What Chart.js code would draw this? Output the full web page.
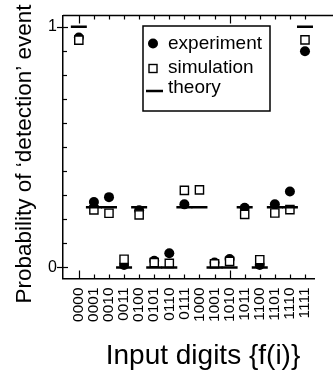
<!DOCTYPE html>
<html>
<head>
<meta charset="utf-8">
<script src="https://cdn.jsdelivr.net/npm/chart.js@4"></script>
<style>
  html, body { margin: 0; padding: 0; background: #fff; }
  #wrap { width: 333px; height: 377px; }
</style>
</head>
<body>
<div id="wrap"><canvas id="myChart" width="333" height="377"></canvas></div>
<script>
// Chart data
var categories = ['0000', '0001', '0010', '0011', '0100', '0101', '0110', '0111',
                  '1000', '1001', '1010', '1011', '1100', '1101', '1110', '1111'];
var experiment = [0.955, 0.272, 0.292, 0.01, 0.237, 0.028, 0.059, 0.262,
                  null, 0.02, 0.035, 0.248, 0.01, 0.262, 0.315, 0.898];
var simulation = [0.944, 0.239, 0.225, 0.034, 0.218, 0.02, 0.017, 0.32,
                  0.322, 0.015, 0.025, 0.22, 0.032, 0.226, 0.24, 0.945];
var theory = [1, 0.25, 0.25, 0, 0.25, 0, 0, 0.25, 0.25, 0, 0, 0.25, 0, 0.25, 0.25, 1];
var yTicks = [0, 0.1, 0.2, 0.3, 0.4, 0.5, 0.6, 0.7, 0.8, 0.9, 1];
var yLabels = ['0', '1'];

var FONT = '"Liberation Sans", Arial, Helvetica, sans-serif';

function points(values) {
  return values.map(function (v, i) { return { x: i, y: v }; });
}

// Frame, inward ticks, axis titles and the legend box
var decorPlugin = {
  id: 'decor',
  afterDraw: function (chart) {
    var c = chart.ctx;
    var a = chart.chartArea;
    var xs = chart.scales.x;
    var ys = chart.scales.y;
    c.save();
    c.strokeStyle = '#000';
    c.lineWidth = 1.5;
    // top frame line
    c.beginPath();
    c.moveTo(a.left, a.top);
    c.lineTo(chart.width, a.top);
    c.stroke();

    c.lineWidth = 1.2;
    // y ticks
    yTicks.forEach(function (v) {
      var py = Math.round(ys.getPixelForValue(v)) + 0.5;
      var major = (v === 0 || v === 1);
      c.beginPath();
      c.moveTo(major ? a.left - 6 : a.left, py);
      c.lineTo(a.left + (major ? 5 : 4), py);
      c.stroke();
    });
    // x ticks, bottom and top
    categories.forEach(function (cat, i) {
      var px = Math.round(xs.getPixelForValue(i)) + 0.5;
      var len = (i % 10 === 0) ? 8 : 4;
      c.beginPath();
      c.moveTo(px, a.bottom);
      c.lineTo(px, a.bottom - len);
      c.moveTo(px, a.top);
      c.lineTo(px, a.top + len);
      c.stroke();
    });

    // axis titles
    c.fillStyle = '#000';
    c.textAlign = 'center';
    c.textBaseline = 'middle';
    c.font = '28px ' + FONT;
    c.fillText('Input digits {f(i)}', 203, 356);
    c.save();
    c.translate(25, 154);
    c.rotate(-Math.PI / 2);
    c.font = '22.5px ' + FONT;
    c.fillText('Probability of \u2018detection\u2019 event', 0, 0);
    c.restore();

    // legend
    c.lineWidth = 1.5;
    c.strokeRect(143, 26, 127, 85);
    c.beginPath();
    c.arc(153, 43.5, 5, 0, Math.PI * 2);
    c.fill();
    c.lineWidth = 1.4;
    c.fillStyle = '#fff';
    c.fillRect(149, 64.5, 8, 8);
    c.strokeRect(149, 64.5, 8, 8);
    c.lineWidth = 2.5;
    c.beginPath();
    c.moveTo(146, 91);
    c.lineTo(163, 91);
    c.stroke();
    c.fillStyle = '#000';
    c.textAlign = 'left';
    c.font = '19px ' + FONT;
    c.fillText('experiment', 168, 43.5);
    c.fillText('simulation', 168, 67.5);
    c.fillText('theory', 168, 87.5);
    c.restore();
  }
};

var ctx = document.getElementById('myChart').getContext('2d');

var data = {
  datasets: [
    {
      label: 'theory',
      data: points(theory),
      pointStyle: 'line',
      pointRadius: 8,
      pointHoverRadius: 8,
      borderColor: '#000',
      backgroundColor: '#000',
      pointBorderWidth: 2.5,
      order: 0,
    },
    {
      label: 'simulation',
      data: points(simulation),
      pointStyle: 'rect',
      pointRadius: 5.8,
      pointHoverRadius: 5.8,
      borderColor: '#000',
      backgroundColor: '#fff',
      pointBorderWidth: 1.4,
      order: 1,
    },
    {
      label: 'experiment',
      data: points(experiment),
      pointStyle: 'circle',
      pointRadius: 5,
      pointHoverRadius: 5,
      borderColor: '#000',
      backgroundColor: '#000',
      pointBorderWidth: 0,
      order: 2,
    },
  ],
};

var options = {
  responsive: false,
  animation: false,
  events: [],
  layout: { padding: { top: 6, right: 0, left: 0, bottom: 0 } },
  plugins: {
    legend: { display: false },
    tooltip: { enabled: false },
  },
  scales: {
    x: {
      type: 'linear',
      min: -1.05,
      max: 15.65,
      afterBuildTicks: function (s) {
        s.ticks = categories.map(function (c, i) { return { value: i }; });
      },
      afterFit: function (s) { s.height = 98.5; },
      ticks: {
        autoSkip: false,
        minRotation: 90,
        maxRotation: 90,
        padding: 9,
        color: '#000',
        font: { family: FONT, size: 15.5 },
        callback: function (v) { return categories[v]; },
      },
      grid: { display: false, drawTicks: false },
      border: { display: true, color: '#000', width: 1.5 },
    },
    y: {
      min: -0.046,
      max: 1.046,
      afterBuildTicks: function (s) {
        s.ticks = yTicks.map(function (v) { return { value: v }; });
      },
      afterFit: function (s) { s.width = 63; },
      ticks: {
        padding: 6,
        color: '#000',
        font: { family: FONT, size: 16 },
        callback: function (v) {
          if (v === 0) return yLabels[0];
          if (v === 1) return yLabels[1];
          return '';
        },
      },
      grid: { display: false, drawTicks: false },
      border: { display: true, color: '#000', width: 1.5 },
    },
  },
};

var myChart = new Chart(ctx, {
  type: 'scatter',
  data: data,
  options: options,
  plugins: [decorPlugin],
});
</script>
</body>
</html>
